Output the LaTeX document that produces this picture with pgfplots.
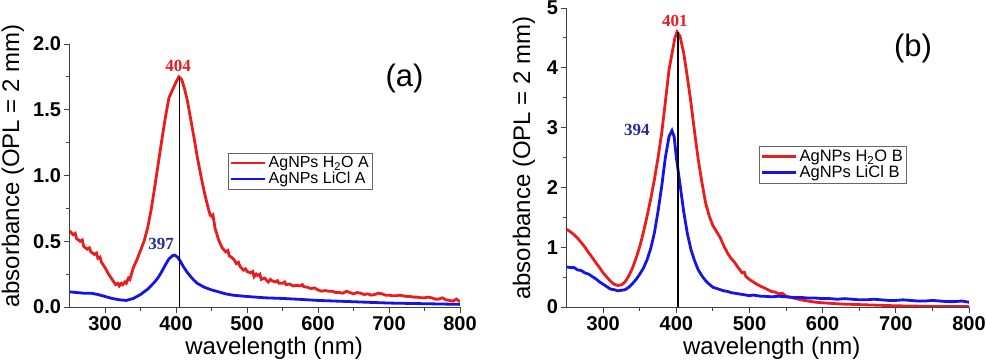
\documentclass[border=0pt]{standalone}
\usepackage{fontspec}
\setmainfont{Liberation Sans}
\setsansfont{Liberation Sans}
\newfontfamily\timesfont{Liberation Serif}
\usepackage{pgfplots}
\pgfplotsset{compat=1.18}

\definecolor{cred}{RGB}{235,28,28}
\definecolor{cblue}{RGB}{20,20,230}
\definecolor{cnavy}{RGB}{40,40,150}

\pgfplotsset{myaxis/.style={
  scale only axis,
  axis x line=bottom, axis y line=left,
  axis line style={-, line width=0.9pt, black!75},
  xmin=250, xmax=800, ymin=0,
  xtick={300,400,...,800},
  minor x tick num=1, minor y tick num=1,
  tick align=outside,
  major tick length=6pt, minor tick length=4pt,
  every tick/.style={line width=0.9pt, black!75},
  tick label style={font=\fontsize{20}{22}\selectfont\bfseries},
  /pgf/number format/assume math mode=true,
  xticklabel style={yshift=0pt},
  yticklabel style={xshift=1pt},
  label style={font=\fontsize{24}{28}\selectfont},
  legend style={font=\fontsize{16}{18}\selectfont, draw=black!60, line width=0.7pt,
    inner sep=1.5pt, row sep=-1pt, legend cell align=left, anchor=north west},
  legend image code/.code={\draw[##1, line width=2.8pt] (0pt,0pt) -- (34pt,0pt);},
}}

\begin{document}
\begin{tikzpicture}
\path[use as bounding box] (0,0) rectangle (986pt,364pt);

% ---------------- panel (a)
\begin{axis}[myaxis,
  at={(69.5pt,57pt)}, anchor=south west,
  width=390.5pt, height=263pt,
  ymax=2.0,
  ytick={0,0.5,...,2.0},
  yticklabel style={/pgf/number format/.cd, fixed, fixed zerofill, precision=1},
  xlabel={wavelength (nm)},
  ylabel={absorbance (OPL = 2 mm)},
  xlabel style={at={(axis description cs:0.524,-0.156)}, anchor=center},
  ylabel style={at={(axis description cs:-0.1447,0.536)}, anchor=center, rotate=0},
  legend style={at={(axis description cs:0.406,0.586)}},
]
\addplot[cred, line width=2.8pt] coordinates {
(250,0.58)(255,0.55)(258,0.56)(260,0.52)(265,0.50)(268,0.51)(270,0.46)(275,0.44)(278,0.45)(280,0.42)
(285,0.40)(288,0.41)(290,0.37)(293,0.38)(295,0.34)(300,0.30)(305,0.25)(310,0.21)(315,0.17)(318,0.18)
(320,0.16)(323,0.18)(325,0.17)(328,0.19)(330,0.18)(333,0.22)(335,0.21)(340,0.30)(345,0.36)(350,0.43)
(355,0.50)(360,0.60)(365,0.74)(370,0.91)(375,1.09)(380,1.27)(385,1.44)(390,1.59)(395,1.65)(400,1.71)
(404,1.75)(408,1.73)(412,1.66)(416,1.57)(420,1.45)(425,1.30)(430,1.14)(435,1.00)(440,0.87)(445,0.76)
(448,0.70)(450,0.69)(452,0.70)(455,0.60)(460,0.51)(465,0.45)(470,0.42)(473,0.43)(475,0.39)(480,0.37)
(483,0.35)(485,0.33)(488,0.34)(490,0.31)(495,0.28)(498,0.29)(500,0.27)(505,0.26)(508,0.27)(510,0.23)
(513,0.25)(515,0.24)(518,0.25)(520,0.21)(525,0.22)(528,0.20)(530,0.19)(533,0.21)(535,0.20)(540,0.19)
(543,0.20)(545,0.18)(550,0.18)(553,0.19)(555,0.17)(560,0.175)(565,0.16)(570,0.165)(575,0.16)(578,0.17)
(580,0.155)(585,0.15)(590,0.14)(595,0.145)(600,0.13)(605,0.12)(610,0.125)(615,0.12)(620,0.12)(625,0.11)
(630,0.11)(635,0.105)(640,0.12)(645,0.11)(650,0.10)(655,0.11)(660,0.105)(665,0.095)(670,0.10)(675,0.09)
(680,0.095)(685,0.105)(690,0.10)(695,0.09)(700,0.09)(705,0.085)(710,0.085)(715,0.09)(720,0.085)(725,0.08)
(730,0.08)(735,0.075)(740,0.075)(745,0.07)(750,0.07)(755,0.075)(760,0.07)(765,0.06)(770,0.06)(775,0.07)
(780,0.055)(785,0.05)(790,0.045)(795,0.06)(800,0.04)
};
\addlegendentry{AgNPs H\textsubscript{2}O A}
\addplot[cblue, line width=2.8pt] coordinates {
(250,0.115)(260,0.11)(270,0.105)(280,0.105)(290,0.095)(300,0.08)(310,0.065)(320,0.055)(330,0.05)
(340,0.065)(350,0.095)(360,0.135)(370,0.19)(375,0.225)(380,0.27)(385,0.32)(390,0.365)(395,0.39)
(398,0.395)(402,0.38)(406,0.35)(410,0.31)(415,0.27)(420,0.235)(425,0.205)(430,0.18)(440,0.15)
(450,0.13)(460,0.115)(470,0.10)(480,0.09)(500,0.08)(525,0.07)(550,0.065)(575,0.058)(600,0.05)
(650,0.04)(700,0.03)(750,0.025)(800,0.02)
};
\addlegendentry{AgNPs LiCl A}
\addplot[black, line width=1.8pt, forget plot] coordinates {(405,0)(405,1.75)};
\node[text=cred, font=\timesfont\bfseries\fontsize{17}{18}\selectfont] at (axis cs:403,1.83) {404};
\node[text=cnavy, font=\timesfont\bfseries\fontsize{17}{18}\selectfont] at (axis cs:379,0.48) {397};
\node[font=\fontsize{31}{34}\selectfont] at (axis cs:722,1.74) {(a)};
\end{axis}

% ---------------- panel (b)
\begin{axis}[myaxis,
  at={(566.6pt,57pt)}, anchor=south west,
  width=402.4pt, height=299pt,
  ymax=5,
  ytick={0,1,...,5},
  xlabel={wavelength (nm)},
  ylabel={absorbance (OPL = 2 mm)},
  xlabel style={at={(axis description cs:0.51,-0.137)}, anchor=center},
  ylabel style={at={(axis description cs:-0.106,0.498)}, anchor=center},
  legend style={at={(axis description cs:0.478,0.538)}, font=\fontsize{16.5}{19.5}\selectfont},
]
\addplot[cred, line width=2.8pt] coordinates {
(250,1.30)(255,1.26)(260,1.21)(265,1.15)(270,1.08)(275,1.00)(280,0.91)(285,0.83)(290,0.74)(295,0.66)
(300,0.57)(305,0.50)(310,0.43)(315,0.38)(320,0.36)(325,0.37)(330,0.42)(335,0.52)(340,0.65)(345,0.82)
(350,1.01)(355,1.25)(360,1.52)(365,1.81)(370,2.13)(375,2.50)(380,2.91)(385,3.43)(390,3.97)(395,4.30)
(398,4.50)(401,4.60)(405,4.53)(410,4.25)(415,3.85)(420,3.41)(425,2.92)(430,2.46)(435,2.08)(440,1.74)
(445,1.52)(450,1.36)(455,1.26)(460,1.16)(465,1.02)(470,0.90)(475,0.81)(480,0.74)(485,0.65)(490,0.57)
(493,0.58)(495,0.51)(500,0.46)(510,0.38)(520,0.32)(530,0.26)(535,0.25)(540,0.22)(545,0.23)(550,0.18)
(560,0.15)(570,0.12)(580,0.10)(590,0.08)(600,0.07)(625,0.05)(650,0.04)(675,0.03)(700,0.02)(750,0.01)(800,0.01)
};
\addlegendentry{AgNPs H\textsubscript{2}O B}
\addplot[cblue, line width=2.8pt] coordinates {
(250,0.67)(255,0.66)(260,0.66)(265,0.62)(270,0.61)(275,0.57)(280,0.55)(285,0.51)(290,0.47)(295,0.42)
(300,0.38)(305,0.34)(310,0.30)(315,0.29)(320,0.27)(325,0.28)(330,0.29)(335,0.33)(340,0.39)(345,0.46)
(350,0.55)(355,0.65)(360,0.79)(365,0.98)(370,1.24)(375,1.60)(380,2.02)(385,2.50)(390,2.85)(394,2.95)
(397,2.85)(400,2.50)(405,2.05)(410,1.60)(415,1.23)(420,0.96)(425,0.77)(430,0.62)(435,0.52)(440,0.44)
(445,0.38)(450,0.33)(455,0.31)(460,0.29)(465,0.27)(470,0.26)(475,0.24)(480,0.23)(485,0.22)(490,0.21)
(495,0.20)(500,0.19)(505,0.20)(510,0.19)(515,0.18)(520,0.18)(530,0.17)(540,0.18)(550,0.17)(560,0.16)
(570,0.16)(580,0.15)(590,0.15)(600,0.14)(610,0.14)(620,0.13)(630,0.14)(640,0.13)(650,0.12)(660,0.12)
(670,0.13)(680,0.12)(690,0.11)(700,0.11)(710,0.12)(720,0.11)(730,0.10)(740,0.10)(750,0.11)(760,0.10)
(770,0.09)(780,0.09)(790,0.10)(800,0.08)
};
\addlegendentry{AgNPs LiCl B}
\addplot[black, line width=1.8pt, forget plot] coordinates {(402,0)(402,4.6)};
\node[text=cred, font=\timesfont\bfseries\fontsize{17}{18}\selectfont] at (axis cs:398,4.78) {401};
\node[text=cnavy, font=\timesfont\bfseries\fontsize{17}{18}\selectfont] at (axis cs:346,2.96) {394};
\node[font=\fontsize{31}{34}\selectfont] at (axis cs:723.5,4.33) {(b)};
\end{axis}
\end{tikzpicture}
\end{document}
